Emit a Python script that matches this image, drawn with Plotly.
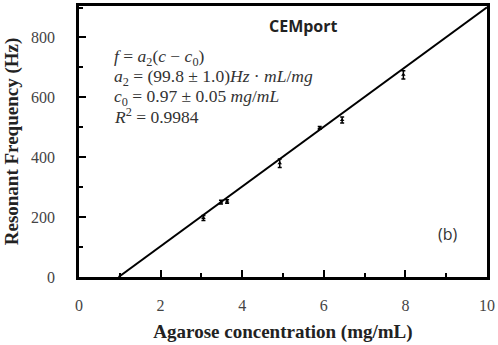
import plotly.graph_objects as go

conc = [3.05, 3.48, 3.63, 4.92, 5.9, 6.45, 7.95]
freq = [197, 250, 252, 380, 498, 524, 675]
err = [8, 6, 6, 14, 5, 10, 14]
fit_x = [0.97, 10.0]
fit_y = [0, 901]

eq_lines = [
    "<i>f</i> = <i>a</i><sub>2</sub>(<i>c</i> − <i>c</i><sub>0</sub>)",
    "<i>a</i><sub>2</sub> = (99.8 ± 1.0)<i>Hz</i> · <i>mL</i>/<i>mg</i>",
    "<i>c</i><sub>0</sub> = 0.97 ± 0.05 <i>mg</i>/<i>mL</i>",
    "<i>R</i><sup>2</sup> = 0.9984",
]

fig = go.Figure()
fig.add_trace(go.Scatter(x=fit_x, y=fit_y, mode="lines",
                         line=dict(color="black", width=2), showlegend=False))
fig.add_trace(go.Scatter(x=conc, y=freq, mode="markers",
                         marker=dict(color="black", size=4, symbol="triangle-up"),
                         error_y=dict(type="data", array=err, color="black", thickness=1.5, width=2),
                         showlegend=False))

serif = "Liberation Serif"
fig.update_layout(
    width=498, height=345,
    margin=dict(l=79, r=11, t=3, b=68),
    plot_bgcolor="white", paper_bgcolor="white",
    xaxis=dict(range=[0, 10], dtick=2, tick0=0, ticks="inside", ticklen=7, tickwidth=2,
               tickcolor="black", showline=True, linecolor="black", linewidth=2.5, mirror=True,
               showgrid=False, zeroline=False,
               minor=dict(ticks="inside", ticklen=4, dtick=1, tickcolor="black", tickwidth=1.5),
               tickfont=dict(family=serif, size=16, color="#444"), ticklabelstandoff=12,
               title=dict(text="<b>Agarose concentration (mg/mL)</b>",
                          font=dict(family=serif, size=19, color="#222"), standoff=12)),
    yaxis=dict(range=[0, 905], dtick=200, tick0=0, ticks="inside", ticklen=7, tickwidth=2,
               tickcolor="black", showline=True, linecolor="black", linewidth=2.5, mirror=True,
               showgrid=False, zeroline=False,
               minor=dict(ticks="inside", ticklen=4, dtick=100, tickcolor="black", tickwidth=1.5),
               tickfont=dict(family=serif, size=16, color="#444"), ticklabelstandoff=18,
               title=dict(text="<b>Resonant Frequency (Hz)</b>",
                          font=dict(family=serif, size=19, color="#222"), standoff=8)),
)

fig.add_annotation(x=0.55, y=0.975, xref="paper", yref="paper", text="<b>CEMport</b>",
                   showarrow=False, xanchor="center", yanchor="top",
                   font=dict(family="Open Sans", size=16, color="#222"))
eq_y = [0.81, 0.737, 0.664, 0.595]
for txt, yy in zip(eq_lines, eq_y):
    fig.add_annotation(x=0.08, y=yy, xref="paper", yref="paper", text=txt,
                       showarrow=False, xanchor="left", yanchor="middle", align="left",
                       font=dict(family=serif, size=17.5, color="#333"))
fig.add_annotation(x=0.905, y=0.16, xref="paper", yref="paper", text="(b)",
                   showarrow=False, xanchor="center", yanchor="middle",
                   font=dict(family="Open Sans", size=16, color="#333"))

fig.write_html("out.html")
